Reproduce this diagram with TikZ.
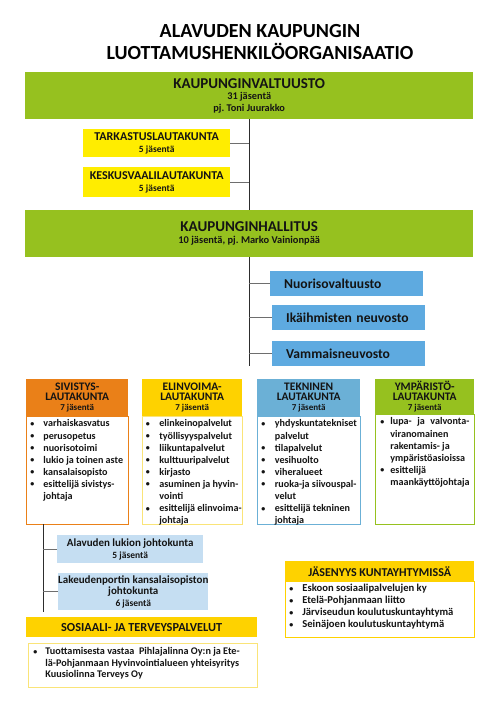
\documentclass[tikz,border=0pt]{standalone}
\usepackage{fontspec}
\setmainfont{Carlito}
\frenchspacing
\definecolor{kvgreen}{RGB}{150,193,31}
\definecolor{kvyellow}{RGB}{255,237,0}
\definecolor{kvgold}{RGB}{254,210,0}
\definecolor{kvorange}{RGB}{234,128,24}
\definecolor{kvblue}{RGB}{94,170,224}
\definecolor{kvsteel}{RGB}{107,176,214}
\definecolor{kvpale}{RGB}{197,222,242}
\definecolor{kvlemon}{RGB}{250,228,120}
\definecolor{kvline}{RGB}{45,45,45}
\definecolor{kvgrey}{RGB}{110,110,110}
\definecolor{kvink}{RGB}{20,20,20}
\newcommand\fs[2]{\fontsize{#1}{#2}\selectfont}
\newlength\bulw
\newcommand\bul{\par\hangindent=\bulw\hangafter=1\noindent\makebox[\bulw][l]{\raisebox{0.5pt}{\fs{8}{8}\textbullet}}}
\newcommand\lista[4]{\setlength\bulw{#3}\makebox[#1][l]{\parbox[t][#2][t]{250pt}{\raggedright\fs{10.1}{12.1}#4}}}
\begin{document}
\begin{tikzpicture}[x=1pt,y=-1pt,every node/.style={inner sep=0pt,text=kvink,font=\bfseries},
  box/.style={anchor=north west,align=center},
  head/.style={anchor=north west,align=center,minimum height=37,font=\bfseries\fs{11.5}{10}},
  body/.style={anchor=north west,draw,fill=white,line width=0.8pt,inner xsep=4,inner ysep=3.5},
  club/.style={anchor=north west,fill=kvblue,text width=125,inner xsep=14,minimum height=25,align=left,font=\bfseries\fs{13.6}{14}},
  link/.style={draw=kvline,line width=0.8pt},
  twig/.style={draw=kvgrey,line width=0.8pt}]
\useasboundingbox (0,0) rectangle (500,707);
\node[text=black,align=center,font=\bfseries\fs{20}{22.5}] (title) at (260,42) {ALAVUDEN KAUPUNGIN\\LUOTTAMUSHENKILÖORGANISAATIO};
% valtuusto
\node[box,fill=kvgreen,minimum width=448,minimum height=47,font=\bfseries\fs{10.3}{11.5}] (valt) at (25,72)
  {{\fs{15}{16}KAUPUNGINVALTUUSTO}\\[0pt]31 jäsentä\\pj. Toni Juurakko};
\node[box,fill=kvyellow,minimum width=147,minimum height=28,font=\bfseries\fs{9.5}{12.5}] (tark) at (83,129)
  {{\fs{12}{12}TARKASTUSLAUTAKUNTA}\\5 jäsentä};
\node[box,fill=kvyellow,minimum width=147,minimum height=30,font=\bfseries\fs{9.5}{12.5}] (kesk) at (83,167)
  {{\fs{12}{12}KESKUSVAALILAUTAKUNTA}\\5 jäsentä};
% hallitus
\node[box,fill=kvgreen,minimum width=448,minimum height=47,font=\bfseries\fs{10.4}{12}] (halli) at (25,210)
  {{\fs{15}{16}KAUPUNGINHALLITUS}\\10 jäsentä, pj. Marko Vainionpää};
\node[club] (nuor) at (270,271) {Nuorisovaltuusto};
\node[club] (ikai) at (272,305) {Ikäihmisten neuvosto};
\node[club] (vamm) at (272,341) {Vammaisneuvosto};
\draw[link] (valt.south) -- (halli.north);
\draw[twig] (tark.east) -- (tark.east -| valt.south);
\draw[twig] (kesk.east) -- (kesk.east -| valt.south);
\coordinate (hend) at (halli.south |- vamm.south);
\draw[link] (halli.south) -- (hend);
\draw[twig] (nuor.west) -- (nuor.west -| halli.south);
\draw[twig] (ikai.west) -- (ikai.west -| halli.south);
\draw[twig] (vamm.west) -- (vamm.west -| halli.south);
% lautakunnat
\node[head,fill=kvorange,minimum width=102] (sivh) at (26,379) {SIVISTYS-\\LAUTAKUNTA\\{\fs{9}{9}7 jäsentä}};
\node[body,draw=kvorange,minimum width=102] (sivb) at (26,416) {\lista{94pt}{101pt}{13pt}{%
  \bul varhaiskasvatus
  \bul perusopetus
  \bul nuorisotoimi
  \bul lukio ja toinen aste
  \bul kansalaisopisto
  \bul esittelijä sivistys-\newline johtaja}};
\node[head,fill=kvgold,minimum width=100] (elih) at (142,379) {ELINVOIMA-\\LAUTAKUNTA\\{\fs{9}{9}7 jäsentä}};
\node[body,draw=kvlemon,minimum width=100,inner xsep=3.5] (elib) at (142,416) {\lista{93pt}{101pt}{13.5pt}{%
  \bul elinkeinopalvelut
  \bul työllisyyspalvelut
  \bul liikuntapalvelut
  \bul kulttuuripalvelut
  \bul kirjasto
  \bul asuminen ja hyvin-\newline vointi
  \bul esittelijä elinvoima-\newline johtaja}};
\node[head,fill=kvsteel,minimum width=103] (tekh) at (257,379) {TEKNINEN\\LAUTAKUNTA\\{\fs{9}{9}7 jäsentä}};
\node[body,draw=kvsteel,minimum width=103] (tekb) at (257,416) {\lista{95pt}{101pt}{13.5pt}{%
  \bul yhdyskuntatekniset\newline palvelut
  \bul tilapalvelut
  \bul vesihuolto
  \bul viheralueet
  \bul ruoka-ja siivouspal-\newline velut
  \bul esittelijä tekninen\newline johtaja}};
\node[head,fill=kvgreen,minimum width=99,minimum height=35] (ymph) at (375,379) {YMPÄRISTÖ-\\LAUTAKUNTA\\{\fs{9}{9}7 jäsentä}};
\node[body,draw=kvgreen,minimum width=99,inner xsep=5] (ympb) at (375,414) {\lista{89pt}{103pt}{10pt}{%
  \bul\makebox[79pt][s]{lupa-\hfill ja\hfill valvonta-}\newline viranomainen\newline rakentamis- ja\newline ympäristöasioissa
  \bul esittelijä\newline maankäyttöjohtaja}};
% johtokunnat
\node[box,fill=kvpale,minimum width=146,minimum height=28,font=\bfseries\fs{9.5}{12}] (luki) at (57,535)
  {{\fs{11}{11}Alavuden lukion johtokunta}\\5 jäsentä};
\node[box,fill=kvpale,minimum width=145,minimum height=37,font=\bfseries\fs{9.5}{11.5}] (lake) at (58,573)
  {{\fs{11}{11}Lakeudenportin kansalaisopiston}\\{\fs{11}{11}johtokunta}\\6 jäsentä};
\coordinate (sivtop) at (43,524);
\coordinate (sivend) at (43,612);
\draw[link] (sivtop) -- (sivend);
\draw[twig] (luki.west) -- (luki.west -| sivtop);
\draw[twig] (lake.west) -- (lake.west -| sivtop);
% muut
\node[box,fill=kvgold,minimum width=231,minimum height=20,font=\bfseries\fs{12.3}{12}] (sote) at (26,617) {SOSIAALI- JA TERVEYSPALVELUT};
\node[body,draw=kvlemon,minimum width=229,inner xsep=5,inner ysep=4] (soteb) at (28,643) {\lista{219pt}{36pt}{12pt}{\fs{10.2}{11.7}%
  \bul Tuottamisesta vastaa\ \ Pihlajalinna Oy:n ja Ete-\newline lä-Pohjanmaan Hyvinvointialueen yhteisyritys\newline Kuusiolinna Terveys Oy}};
\node[box,fill=kvgold,minimum width=189,minimum height=20,font=\bfseries\fs{12}{12}] (jase) at (285,561) {JÄSENYYS KUNTAYHTYMISSÄ};
\node[body,draw=kvgold,minimum width=189,inner ysep=3] (jaseb) at (285,581) {\lista{181pt}{50pt}{13pt}{\fs{10.6}{12}%
  \bul Eskoon sosiaalipalvelujen ky
  \bul Etelä-Pohjanmaan liitto
  \bul Järviseudun koulutuskuntayhtymä
  \bul Seinäjoen koulutuskuntayhtymä}};
\end{tikzpicture}
\end{document}
